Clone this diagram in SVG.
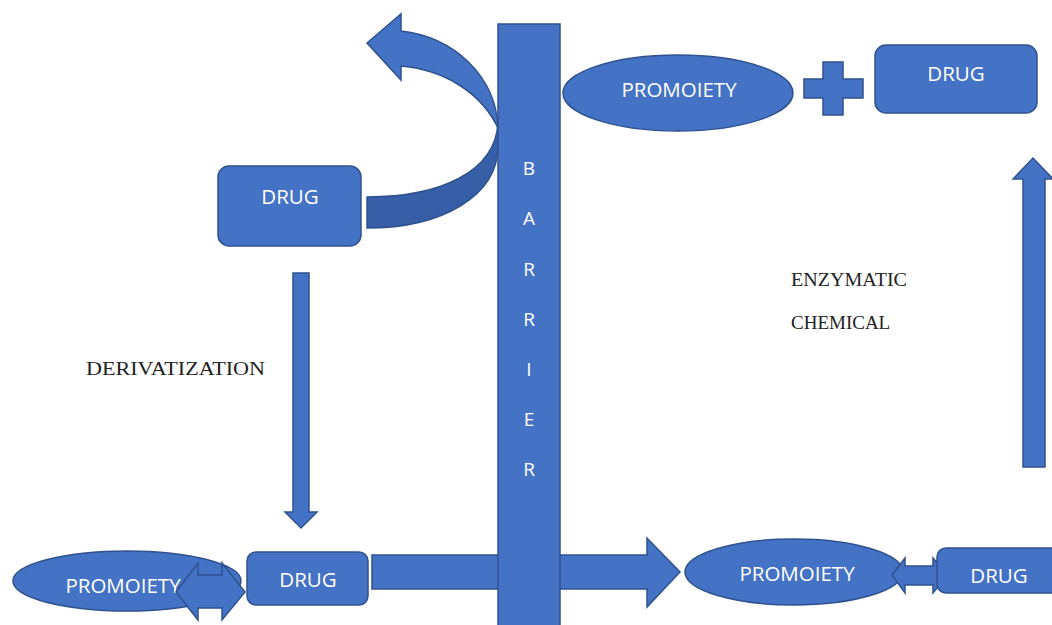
<svg xmlns="http://www.w3.org/2000/svg" width="1052" height="625" viewBox="0 0 1052 625">
<style>
.s{fill:#4472c4;stroke:#2f528f;stroke-width:1.5;stroke-linejoin:miter}
.d{fill:#365fa8;stroke:#2f528f;stroke-width:1.5}
.w{fill:#ffffff;font-family:"Open Sans","Noto Sans",sans-serif;font-size:20.5px;text-anchor:middle}
.b{fill:#ffffff;font-family:"Open Sans","Noto Sans",sans-serif;font-size:19px;text-anchor:middle}
.t{fill:#222222;font-family:"Liberation Serif","Times New Roman",serif;font-size:19px}
</style>
<rect width="1052" height="625" fill="#ffffff"/>
<g id="connectors">
  <path class="d" d="M498,122 C496,172 440,197 367,197 L367,228 C442,228 498,196 498,146 Z"/>
  <path class="s" d="M367,43 L401,14 L401,31 C454,37 496,76 498,128 C482,94 446,70 401,66 L401,80 Z"/>
  <path class="s" d="M293,273 L309,273 L309,512 L317,512 L301,528 L285,512 L293,512 Z"/>
  <path class="s" d="M372,555 L647,555 L647,538 L680,572 L647,607 L647,589 L372,589 Z"/>
  <path class="s" d="M1023,467 L1023,179 L1013,179 L1033,158 L1053,179 L1045,179 L1045,467 Z"/>
</g>
<g id="barrier">
  <rect class="s" x="498" y="24" width="62" height="610"/>
  <text class="b" x="529" y="175">B</text>
  <text class="b" x="529" y="225">A</text>
  <text class="b" x="529" y="276">R</text>
  <text class="b" x="529" y="326">R</text>
  <text class="b" x="529" y="376">I</text>
  <text class="b" x="529" y="426">E</text>
  <text class="b" x="529" y="476">R</text>
</g>
<g id="drug-top-left">
  <rect class="s" x="218" y="166" width="143" height="80" rx="11"/>
  <text class="w" x="290" y="204">DRUG</text>
</g>
<g id="label-derivatization">
  <text class="t" x="86" y="375" textLength="179" lengthAdjust="spacingAndGlyphs">DERIVATIZATION</text>
</g>
<g id="promoiety-bottom-left">
  <ellipse class="s" cx="127" cy="581" rx="114" ry="30"/>
  <text class="w" x="123" y="593">PROMOIETY</text>
</g>
<g id="double-arrow-left">
  <path class="s" d="M176,592 L198,563 L198,575 L222,575 L222,563 L245,592 L222,620 L222,608 L198,608 L198,620 Z"/>
</g>
<g id="drug-bottom-left">
  <rect class="s" x="247" y="552" width="121" height="53" rx="9"/>
  <text class="w" x="308" y="587">DRUG</text>
</g>
<g id="promoiety-bottom-right">
  <ellipse class="s" cx="794" cy="572" rx="109" ry="33"/>
  <text class="w" x="797" y="581">PROMOIETY</text>
</g>
<g id="double-arrow-right">
  <path class="s" d="M892,575 L905,558 L905,566 L933,566 L933,558 L948,575 L933,593 L933,585 L905,585 L905,593 Z"/>
</g>
<g id="drug-bottom-right">
  <rect class="s" x="937" y="548" width="130" height="45" rx="9"/>
  <text class="w" x="999" y="583">DRUG</text>
</g>
<g id="promoiety-top">
  <ellipse class="s" cx="678" cy="93" rx="115" ry="38"/>
  <text class="w" x="679" y="97">PROMOIETY</text>
</g>
<g id="plus">
  <path class="s" d="M823,62 L843,62 L843,79 L863,79 L863,98 L843,98 L843,115 L823,115 L823,98 L804,98 L804,79 L823,79 Z"/>
</g>
<g id="drug-top-right">
  <rect class="s" x="875" y="45" width="162" height="68" rx="11"/>
  <text class="w" x="956" y="81">DRUG</text>
</g>
<g id="labels-right">
  <text class="t" x="791" y="286" textLength="116" lengthAdjust="spacingAndGlyphs">ENZYMATIC</text>
  <text class="t" x="791" y="329">CHEMICAL</text>
</g>
</svg>
